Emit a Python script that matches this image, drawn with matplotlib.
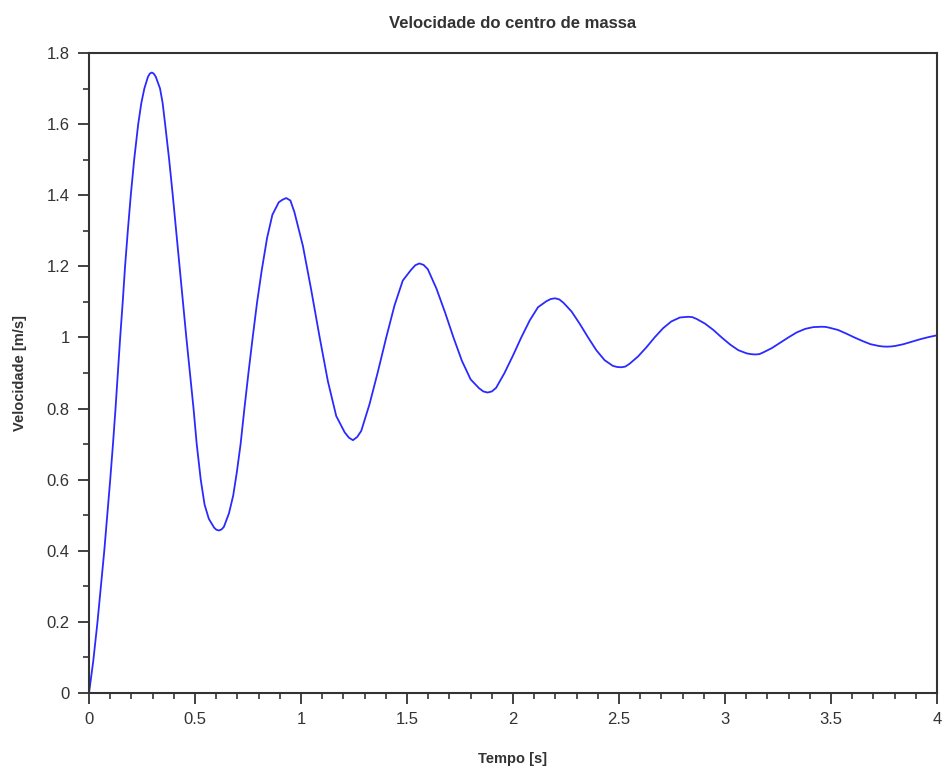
import matplotlib
matplotlib.use('Agg')
from matplotlib import pyplot as plt
from matplotlib.ticker import MultipleLocator, FormatStrFormatter

# tempo [s] e velocidade [m/s]
tempo = [0.000, 0.020, 0.040, 0.056, 0.072, 0.086, 0.100, 0.113, 0.125, 0.136,
         0.147, 0.159, 0.170, 0.183, 0.197, 0.213, 0.232, 0.247, 0.261, 0.278,
         0.287, 0.296, 0.305, 0.315, 0.335, 0.347, 0.359, 0.378, 0.395, 0.411,
         0.427, 0.443, 0.459, 0.476, 0.493, 0.508, 0.527, 0.545, 0.565, 0.590,
         0.601, 0.613, 0.625, 0.636, 0.660, 0.680, 0.697, 0.715, 0.733, 0.752,
         0.772, 0.793, 0.815, 0.840, 0.865, 0.895, 0.912, 0.930, 0.950, 0.969,
         1.009, 1.048, 1.088, 1.127, 1.166, 1.206, 1.226, 1.245, 1.265, 1.284,
         1.323, 1.362, 1.402, 1.441, 1.480, 1.519, 1.539, 1.558, 1.578, 1.598,
         1.639, 1.679, 1.719, 1.759, 1.800, 1.840, 1.860, 1.880, 1.900, 1.920,
         1.959, 1.999, 2.039, 2.079, 2.118, 2.158, 2.178, 2.198, 2.218, 2.237,
         2.276, 2.315, 2.354, 2.393, 2.432, 2.471, 2.490, 2.510, 2.530, 2.550,
         2.589, 2.629, 2.668, 2.708, 2.747, 2.787, 2.806, 2.826, 2.846, 2.866,
         2.905, 2.945, 2.984, 3.024, 3.063, 3.103, 3.122, 3.142, 3.162, 3.181,
         3.221, 3.260, 3.299, 3.338, 3.378, 3.417, 3.436, 3.456, 3.475, 3.494,
         3.533, 3.571, 3.610, 3.648, 3.686, 3.725, 3.744, 3.763, 3.783, 3.803,
         3.842, 3.882, 3.921, 3.961, 4.000]
velocidade = [0.000, 0.090, 0.200, 0.300, 0.400, 0.500, 0.600, 0.700, 0.800, 0.900,
              1.000, 1.100, 1.200, 1.300, 1.400, 1.500, 1.600, 1.660, 1.700, 1.733,
              1.742, 1.745, 1.742, 1.733, 1.700, 1.660, 1.600, 1.500, 1.400, 1.300,
              1.200, 1.100, 1.000, 0.900, 0.800, 0.700, 0.600, 0.530, 0.490, 0.465,
              0.459, 0.457, 0.460, 0.467, 0.505, 0.555, 0.620, 0.700, 0.800, 0.900,
              1.000, 1.100, 1.190, 1.280, 1.345, 1.380, 1.387, 1.392, 1.385, 1.352,
              1.257, 1.134, 1.000, 0.876, 0.779, 0.733, 0.718, 0.711, 0.720, 0.737,
              0.812, 0.902, 1.000, 1.090, 1.160, 1.190, 1.203, 1.208, 1.204, 1.192,
              1.137, 1.071, 1.000, 0.934, 0.882, 0.857, 0.848, 0.845, 0.848, 0.858,
              0.899, 0.948, 1.000, 1.048, 1.085, 1.102, 1.108, 1.110, 1.107, 1.098,
              1.073, 1.038, 1.000, 0.964, 0.936, 0.920, 0.917, 0.916, 0.918, 0.926,
              0.946, 0.972, 1.000, 1.026, 1.045, 1.056, 1.057, 1.058, 1.057, 1.052,
              1.039, 1.021, 1.000, 0.980, 0.964, 0.955, 0.953, 0.952, 0.953, 0.958,
              0.970, 0.985, 1.000, 1.014, 1.024, 1.029, 1.0295, 1.030, 1.0295, 1.027,
              1.021, 1.011, 1.000, 0.990, 0.981, 0.976, 0.9745, 0.974, 0.9745, 0.976,
              0.981, 0.988, 0.995, 1.001, 1.006]

plt.rcParams['font.family'] = ['Liberation Sans', 'DejaVu Sans']
cinza = '#333333'

fig = plt.figure(figsize=(9.44, 7.71), dpi=100)
ax = fig.add_axes([0.0943, 0.1012, 0.8983, 0.8301])

ax.plot(tempo, velocidade, color='#2a2aff', linewidth=1.3)

ax.set_xlim(0, 4)
ax.set_ylim(0, 1.8)

ax.xaxis.set_major_locator(MultipleLocator(0.5))
ax.xaxis.set_minor_locator(MultipleLocator(0.1))
ax.yaxis.set_major_locator(MultipleLocator(0.2))
ax.yaxis.set_minor_locator(MultipleLocator(0.1))
ax.xaxis.set_major_formatter(FormatStrFormatter('%g'))
ax.yaxis.set_major_formatter(FormatStrFormatter('%g'))

ax.tick_params(which='major', direction='out', length=8, width=1.3,
               color=cinza, labelcolor=cinza, labelsize=12, pad=6)
ax.tick_params(which='minor', direction='out', length=4, width=1.2, color=cinza)
for s in ax.spines.values():
    s.set_color(cinza)
    s.set_linewidth(1.5)

ax.set_title('Velocidade do centro de massa', fontsize=12, fontweight='bold',
             color=cinza, pad=18)
ax.set_xlabel('Tempo [s]', fontsize=10.5, fontweight='bold', color=cinza, labelpad=18)
ax.set_ylabel('Velocidade [m/s]', fontsize=10.5, fontweight='bold', color=cinza, labelpad=14)

plt.savefig('out.png', dpi=100)
